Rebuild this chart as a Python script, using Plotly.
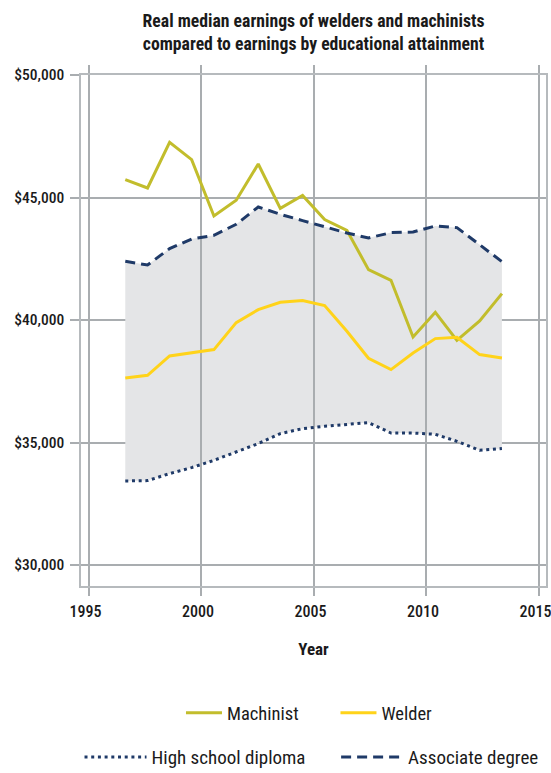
import plotly.graph_objects as go

# ---- data ----
years = [1996.63, 1997.62, 1998.60, 1999.58, 2000.57, 2001.56, 2002.54, 2003.52, 2004.51,
         2005.49, 2006.48, 2007.44, 2008.44, 2009.42, 2010.41, 2011.37, 2012.38, 2013.37]
machinist = [45731, 45388, 47253, 46547, 44245, 44886, 46367, 44559, 45082,
             44098, 43661, 42057, 41620, 39306, 40314, 39171, 39959, 41078]
welder = [37633, 37743, 38531, 38653, 38792, 39894, 40424, 40722, 40792,
          40588, 39539, 38437, 37976, 38653, 39241, 39294, 38588, 38449]
high_school = [33429, 33445, 33731, 33976, 34273, 34629, 34955, 35363, 35567,
               35661, 35731, 35812, 35388, 35388, 35335, 35049, 34682, 34751]
associate = [42396, 42245, 42914, 43306, 43457, 43906, 44612, 44314, 44057,
             43796, 43551, 43347, 43567, 43592, 43837, 43771, 43078, 42384]
x_ticks = [1995, 2000, 2005, 2010, 2015]
x_tick_labels = ["1995", "2000", "2005", "2010", "2015"]
y_ticks = [30000, 35000, 40000, 45000, 50000]
y_tick_labels = ["$" + format(v, ",") for v in y_ticks]

title_text = ("Real median earnings of welders and machinists<br>"
              "compared to earnings by educational attainment")

# ---- styles ----
FONT = "Roboto Condensed, Fira Sans Condensed, DejaVu Sans Condensed, sans-serif"
TXT = "#1a1a1a"
C_MACH = "#c2bd2c"
C_WELD = "#ffd31a"
C_NAVY = "#1f3a68"
C_FILL = "#e4e5e7"
C_GRID = "#a9adb0"
C_FRAME = "#b6babd"
XR = [1994.662, 2015.329]
YR = [29143, 50000]

fig = go.Figure()

# subplot 1: shaded band (drawn below the vertical gridlines)
fig.add_trace(go.Scatter(x=years, y=high_school, mode="lines", line=dict(width=0),
                         showlegend=False, hoverinfo="skip", xaxis="x", yaxis="y"))
fig.add_trace(go.Scatter(x=years, y=associate, mode="lines", line=dict(width=0),
                         fill="tonexty", fillcolor=C_FILL,
                         showlegend=False, hoverinfo="skip", xaxis="x", yaxis="y"))

# subplot 2: visible lines (above the vertical gridlines)
fig.add_trace(go.Scatter(x=years, y=machinist, mode="lines", name="Machinist",
                         line=dict(color=C_MACH, width=3), xaxis="x2", yaxis="y2",
                         legend="legend", legendwidth=103.5))
fig.add_trace(go.Scatter(x=years, y=welder, mode="lines", name="Welder",
                         line=dict(color=C_WELD, width=3), xaxis="x2", yaxis="y2",
                         legend="legend"))
fig.add_trace(go.Scatter(x=years, y=high_school, mode="lines", name="High school diploma",
                         line=dict(color=C_NAVY, width=3, dash="3px,3.7px"),
                         xaxis="x2", yaxis="y2", legend="legend2", legendwidth=179.6))
fig.add_trace(go.Scatter(x=years, y=associate, mode="lines", name="Associate degree",
                         line=dict(color=C_NAVY, width=3, dash="10px,6px"),
                         xaxis="x2", yaxis="y2", legend="legend2"))

fig.update_layout(
    width=551, height=773,
    margin=dict(l=81, r=5, t=75, b=187, autoexpand=False),
    paper_bgcolor="white", plot_bgcolor="rgba(0,0,0,0)",
    font=dict(family=FONT, color=TXT, size=16),
    title=dict(text="<b>" + title_text + "</b>", xref="paper", x=0.5, xanchor="center",
               yref="container", y=0.965, yanchor="top",
               font=dict(family=FONT, size=17.7, color=TXT)),
    xaxis=dict(domain=[0, 1], anchor="y", range=XR, tickvals=x_ticks,
               ticktext=x_tick_labels,
               showgrid=False, zeroline=False, automargin=False,
               ticks="outside", ticklen=8, tickcolor=C_GRID, tickwidth=1.5,
               ticklabelstandoff=2, ticklabelshift=-3, ticklabeloverflow="allow",
               showline=True, linecolor=C_FRAME, linewidth=1.5, mirror="ticks",
               tickfont=dict(family=FONT, size=16, color=TXT, weight=500),
               title=dict(text="<b>Year</b>", standoff=23,
                          font=dict(family=FONT, size=17, color=TXT))),
    yaxis=dict(domain=[0, 1], anchor="x", range=YR, tickvals=y_ticks,
               ticktext=y_tick_labels, automargin=False,
               showgrid=True, gridcolor=C_GRID, gridwidth=1.5, zeroline=False,
               ticks="outside", ticklen=9, tickcolor=C_GRID, tickwidth=1.5,
               ticklabelstandoff=3,
               showline=True, linecolor=C_FRAME, linewidth=1.5, mirror=True,
               tickfont=dict(family=FONT, size=15.5, color=TXT, weight=500)),
    xaxis2=dict(domain=[0, 1], anchor="y2", range=XR, tickvals=x_ticks,
                showgrid=True, gridcolor=C_GRID, gridwidth=1.5, zeroline=False,
                showticklabels=False, ticks="", showline=False, automargin=False),
    yaxis2=dict(domain=[0, 1], anchor="x2", range=YR, showgrid=False, zeroline=False,
                showticklabels=False, ticks="", showline=False, automargin=False),
    legend=dict(orientation="h", x=0.215, xanchor="left", y=-0.249, yanchor="middle",
                traceorder="normal", itemwidth=36,
                font=dict(family=FONT, size=18.5, color=TXT), bgcolor="rgba(0,0,0,0)"),
    legend2=dict(orientation="h", x=-0.0032, xanchor="left", y=-0.335, yanchor="middle",
                 traceorder="normal", itemwidth=62,
                 font=dict(family=FONT, size=19, color=TXT), bgcolor="rgba(0,0,0,0)"),
)

fig.write_html("out.html", config={"displayModeBar": False},
               post_script="document.body.style.margin='0px';")
